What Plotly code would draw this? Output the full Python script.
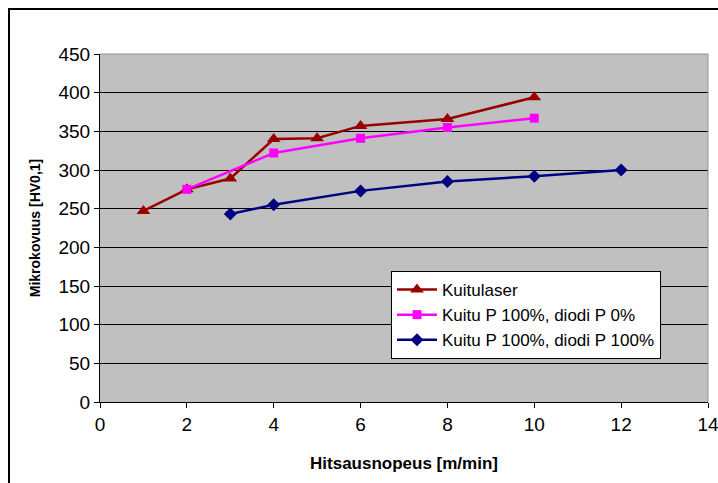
import plotly.graph_objects as go

x_kuitulaser = [1, 2, 3, 4, 5, 6, 8, 10]
y_kuitulaser = [247, 275, 289, 340, 341, 357, 366, 394]

x_diodi0 = [2, 4, 6, 8, 10]
y_diodi0 = [275, 322, 341, 355, 367]

x_diodi100 = [3, 4, 6, 8, 10, 12]
y_diodi100 = [243, 255, 273, 285, 292, 300]

W, H = 718, 483
L, R, T, B = 100, 10, 54, 81

fig = go.Figure()
fig.add_trace(go.Scatter(x=x_kuitulaser, y=y_kuitulaser, mode="lines+markers",
                         name="Kuitulaser",
                         line=dict(color="#990000", width=2.5),
                         marker=dict(symbol="triangle-up", size=12, color="#990000")))
fig.add_trace(go.Scatter(x=x_diodi0, y=y_diodi0, mode="lines+markers",
                         name="Kuitu P 100%, diodi P 0%",
                         line=dict(color="#FF00FF", width=2.5),
                         marker=dict(symbol="square", size=9, color="#FF00FF")))
fig.add_trace(go.Scatter(x=x_diodi100, y=y_diodi100, mode="lines+markers",
                         name="Kuitu P 100%, diodi P 100%",
                         line=dict(color="#000080", width=2.5),
                         marker=dict(symbol="diamond", size=10, color="#000080")))

pw = W - L - R
ph = H - T - B

fig.update_layout(
    width=W, height=H,
    margin=dict(l=L, r=R, t=T, b=B, autoexpand=False),
    paper_bgcolor="white",
    plot_bgcolor="#C0C0C0",
    font=dict(family="Liberation Sans, Arial, sans-serif", size=19, color="black"),
    showlegend=True,
    legend=dict(x=(391 - L) / pw, y=(H - B - 271) / ph, xanchor="left", yanchor="top",
                bgcolor="white", bordercolor="black", borderwidth=1,
                font=dict(size=17), tracegroupgap=0, itemwidth=40),
    xaxis=dict(range=[0, 14], tickvals=[0, 2, 4, 6, 8, 10, 12, 14],
               automargin=False, ticklabeloverflow="allow",
               showgrid=False, zeroline=False, showline=True, linecolor="black", linewidth=1,
               ticks="outside", ticklen=5, tickcolor="black",
               mirror=False,
               title=dict(text="<b>Hitsausnopeus [m/min]</b>",
                          font=dict(family="Liberation Sans, Arial, sans-serif", size=17),
                          standoff=23)),
    yaxis=dict(range=[0, 450], tickvals=list(range(0, 451, 50)),
               automargin=False,
               showgrid=True, gridcolor="black", gridwidth=1,
               zeroline=False, showline=True, linecolor="black", linewidth=1,
               ticks="outside", ticklen=5, tickcolor="black",
               title=dict(text="<b>Mikrokovuus [HV0,1]</b>",
                          font=dict(family="Liberation Sans, Arial, sans-serif", size=14),
                          standoff=14)),
    shapes=[
        dict(type="line", xref="paper", yref="paper", x0=0, x1=1, y0=1, y1=1,
             line=dict(color="#909090", width=1)),
        dict(type="line", xref="paper", yref="paper", x0=1, x1=1, y0=0, y1=1,
             line=dict(color="#909090", width=1)),
        dict(type="rect", xref="paper", yref="paper",
             x0=(9 - L) / pw, x1=(W + 20 - L) / pw,
             y0=(H - B - (H + 20)) / ph, y1=(H - B - 9) / ph,
             line=dict(color="black", width=2), layer="below"),
    ],
)

fig.write_html("out.html")
